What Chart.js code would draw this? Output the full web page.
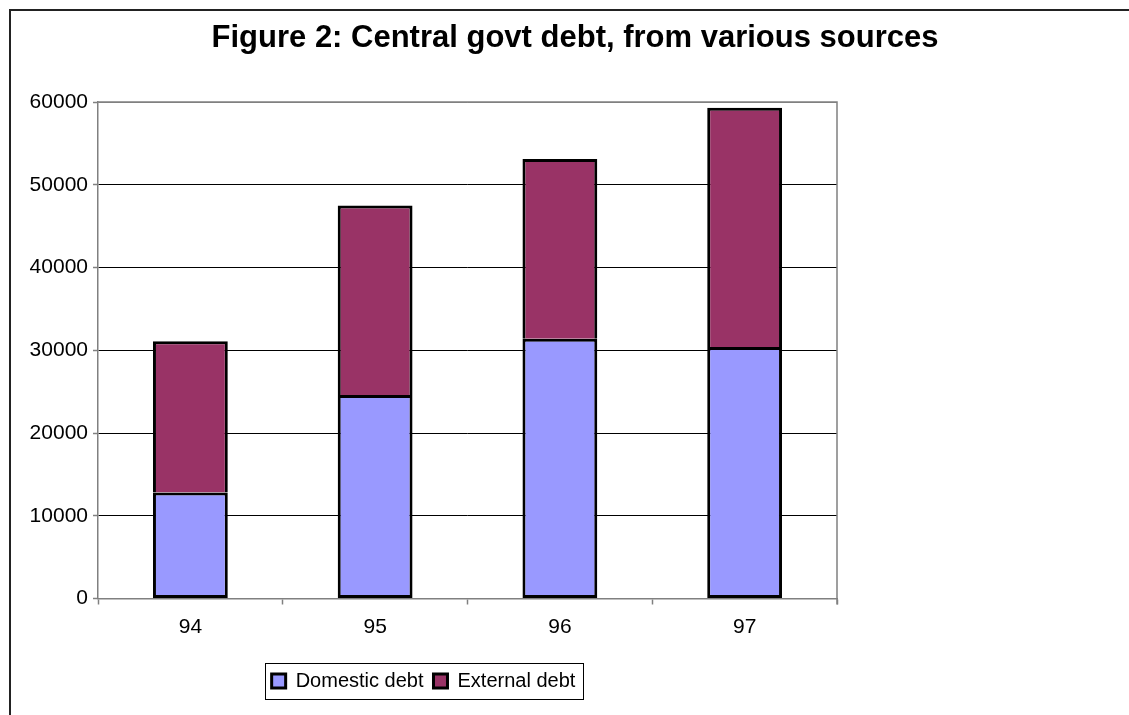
<!DOCTYPE html>
<html>
<head>
<meta charset="utf-8">
<script src="https://cdn.jsdelivr.net/npm/chart.js@4.4.1/dist/chart.umd.min.js"></script>
<style>
html,body{margin:0;padding:0;background:#fff;overflow:hidden;}
#wrap{position:absolute;left:0;top:0;width:1129px;height:715px;}
canvas{display:block;}
</style>
</head>
<body>
<div id="wrap"><canvas id="c" width="1129" height="715"></canvas></div>
<script>
const categories = ['94', '95', '96', '97'];
const domesticDebt = [12800, 24600, 31400, 30400];
const externalDebt = [18300, 22900, 21700, 28900];
const yTickValues = [0, 10000, 20000, 30000, 40000, 50000, 60000];
const seriesLabels = ['Domestic debt', 'External debt'];
const titleText = 'Figure 2: Central govt debt, from various sources';

const FONT = "'Liberation Sans', Arial, Helvetica, sans-serif";
Chart.defaults.font.family = FONT;
Chart.defaults.color = '#000';

const framePlugin = {
  id: 'frame',
  beforeDraw(chart) {
    const ctx = chart.ctx;
    ctx.save();
    ctx.fillStyle = '#fff';
    ctx.fillRect(0, 0, chart.width, chart.height);
    ctx.strokeStyle = '#222';
    ctx.lineWidth = 2;
    ctx.beginPath();
    ctx.moveTo(10, chart.height);
    ctx.lineTo(10, 10);
    ctx.lineTo(chart.width, 10);
    ctx.stroke();
    ctx.restore();
  }
};

const plotBorderPlugin = {
  id: 'plotBorder',
  beforeDatasetsDraw(chart) {
    const a = chart.chartArea, ctx = chart.ctx;
    ctx.save();
    ctx.strokeStyle = '#808080';
    ctx.lineWidth = 1.5;
    ctx.beginPath();
    ctx.moveTo(a.left, a.top);
    ctx.lineTo(a.right, a.top);
    ctx.lineTo(a.right, a.bottom + 6);
    ctx.stroke();
    ctx.restore();
  }
};

const titlePlacePlugin = {
  id: 'titlePlace',
  afterLayout(chart) {
    const t = chart.titleBlock;
    if (t) { t.left = 10; t.right = 1140; }
  }
};

const legendBoxPlugin = {
  id: 'legendBox',
  afterDraw(chart) {
    const lg = chart.legend;
    if (!lg || !lg.legendHitBoxes || !lg.legendHitBoxes.length) return;
    let minX = Infinity, maxX = -Infinity, minY = Infinity, maxY = -Infinity;
    lg.legendHitBoxes.forEach(h => {
      minX = Math.min(minX, h.left); maxX = Math.max(maxX, h.left + h.width);
      minY = Math.min(minY, h.top); maxY = Math.max(maxY, h.top + h.height);
    });
    const ctx = chart.ctx;
    ctx.save();
    ctx.strokeStyle = '#000';
    ctx.lineWidth = 1;
    const cy = (minY + maxY) / 2;
    ctx.strokeRect(Math.round(minX - 7) + 0.5, Math.round(cy - 18) + 0.5, Math.round(maxX - minX + 14), 36);
    ctx.restore();
  }
};

new Chart(document.getElementById('c'), {
  type: 'bar',
  data: {
    labels: categories,
    datasets: [
      {
        label: seriesLabels[0],
        data: domesticDebt,
        backgroundColor: '#9999FF',
        borderColor: '#000',
        borderWidth: 3,
        borderSkipped: false,
        categoryPercentage: 1.0,
        barPercentage: 0.405
      },
      {
        label: seriesLabels[1],
        data: externalDebt,
        backgroundColor: '#993366',
        borderColor: '#000',
        borderWidth: 3,
        borderSkipped: 'start',
        categoryPercentage: 1.0,
        barPercentage: 0.405
      }
    ]
  },
  options: {
    responsive: false,
    animation: false,
    devicePixelRatio: 1,
    layout: { padding: { left: 10, right: 292, top: 0, bottom: 14 } },
    plugins: {
      title: {
        display: true,
        text: titleText,
        color: '#000',
        font: { size: 31, weight: 'bold', family: FONT, lineHeight: 1.2 },
        padding: { top: 20, bottom: 44.8 }
      },
      legend: {
        display: true,
        position: 'bottom',
        labels: {
          boxWidth: 14,
          boxHeight: 14,
          padding: 10,
          color: '#000',
          font: { size: 20, family: FONT }
        }
      },
      tooltip: { enabled: false }
    },
    scales: {
      x: {
        stacked: true,
        grid: {
          display: true,
          offset: true,
          drawOnChartArea: false,
          drawTicks: true,
          tickLength: 6,
          tickColor: '#808080',
          tickWidth: 1.5
        },
        border: { display: true, color: '#808080', width: 1.5 },
        ticks: { color: '#000', font: { size: 21, family: FONT }, padding: 10 },
        afterFit(scale) { scale.height = 62.5; }
      },
      y: {
        stacked: true,
        min: 0,
        max: 60000,
        afterBuildTicks(scale) { scale.ticks = yTickValues.map(v => ({ value: v })); },
        grid: {
          color: c => (c.tick && c.tick.value === 60000) ? '#808080' : '#000',
          lineWidth: 1,
          drawTicks: true,
          tickLength: 5,
          tickColor: '#808080',
          tickWidth: 1.5
        },
        border: { display: true, color: '#808080', width: 1.5 },
        ticks: {
          color: '#000',
          font: { size: 21, family: FONT },
          padding: 5,
          callback: v => String(v)
        },
        afterFit(scale) { scale.width = 88; }
      }
    }
  },
  plugins: [framePlugin, plotBorderPlugin, titlePlacePlugin, legendBoxPlugin]
});
</script>
</body>
</html>
